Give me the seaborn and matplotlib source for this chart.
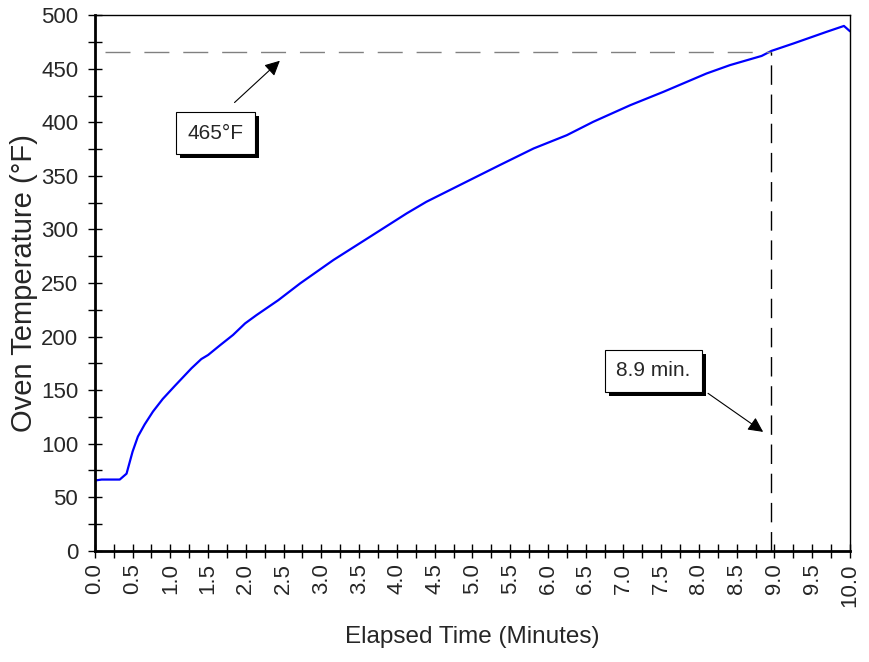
import matplotlib
matplotlib.use("Agg")
import pandas as pd
import seaborn as sns
import matplotlib.pyplot as plt
import matplotlib.patheffects as pe
from matplotlib.ticker import MultipleLocator, FormatStrFormatter

# oven temperature
minutes = [0, 0.09, 0.33, 0.42, 0.50, 0.57, 0.66, 0.77, 0.90, 1.06, 1.28, 1.41,
           1.50, 1.66, 1.83, 1.99, 2.14, 2.43, 2.72, 3.16, 3.64, 4.13, 4.39, 4.92,
           5.36, 5.81, 6.25, 6.60, 7.09, 7.53, 8.10, 8.41, 8.83, 8.96, 9.25, 9.69,
           9.92, 10.0]
temp_f = [65.6, 66.5, 66.5, 72, 92.6, 106.6, 118, 130, 141.8, 154, 170.4, 179,
          182.8, 192, 201.5, 212.3, 220, 234, 249.7, 271.5, 293, 315, 325.8, 344.5,
          360, 375.6, 388, 400.5, 416, 428.5, 445.6, 453.4, 462, 466.7, 473.6, 484.5,
          490, 485]

target_temp = 466
target_time = 8.96
temp_label = "465°F"
time_label = "8.9 min."

sns.set_style("white")
plt.rcParams["font.family"] = ["Liberation Sans", "DejaVu Sans"]

data = pd.DataFrame({"Elapsed Time (Minutes)": minutes, "Oven Temperature (°F)": temp_f})

fig = plt.figure(figsize=(8.7, 6.62), dpi=100)
ax = fig.add_axes([0.109, 0.168, 0.868, 0.809])

sns.lineplot(x="Elapsed Time (Minutes)", y="Oven Temperature (°F)", data=data,
             color="#0000ff", linewidth=1.6, ax=ax)

# reference lines
ax.plot([0.13, target_time], [target_temp, target_temp], color="#808080",
        linewidth=1.0, dashes=(18, 10))
ax.plot([target_time, target_time], [0, target_temp], color="black",
        linewidth=1.0, dashes=(14, 7))

ax.set_xlim(0, 10)
ax.set_ylim(0, 500)
ax.xaxis.set_major_locator(MultipleLocator(0.5))
ax.xaxis.set_minor_locator(MultipleLocator(0.25))
ax.yaxis.set_major_locator(MultipleLocator(50))
ax.yaxis.set_minor_locator(MultipleLocator(25))
ax.xaxis.set_major_formatter(FormatStrFormatter("%.1f"))
ax.tick_params(axis="both", which="both", direction="inout", length=10, width=1,
               color="black", bottom=True, left=True, labelsize=16)
ax.tick_params(axis="x", labelrotation=90, pad=4)
ax.tick_params(axis="y", pad=7)

for side in ["top", "right"]:
    ax.spines[side].set_linewidth(1.0)
for side in ["left", "bottom"]:
    ax.spines[side].set_linewidth(2.0)
for s in ax.spines.values():
    s.set_color("black")

ax.set_xlabel("Elapsed Time (Minutes)", fontsize=17.5, labelpad=14)
ax.set_ylabel("Oven Temperature (°F)", fontsize=21, labelpad=2)

shadow = [pe.withSimplePatchShadow(offset=(3, -3), shadow_rgbFace="black", alpha=1.0)]
box = dict(boxstyle="square,pad=0.55", facecolor="white", edgecolor="black", linewidth=0.8)

t1 = ax.text(1.6, 390, temp_label, fontsize=15, ha="center", va="center", bbox=box)
t1.get_bbox_patch().set_path_effects(shadow)
t2 = ax.text(7.4, 168, time_label, fontsize=15, ha="center", va="center", bbox=box)
t2.get_bbox_patch().set_path_effects(shadow)

arrow = dict(arrowstyle="-|>,head_length=0.9,head_width=0.45", color="black",
             linewidth=0.8, shrinkA=0, shrinkB=0)
ax.annotate("", xy=(2.45, 457.5), xytext=(1.85, 418.5), arrowprops=arrow)
ax.annotate("", xy=(8.85, 111), xytext=(8.12, 147), arrowprops=arrow)

fig.savefig("out.png", dpi=100)
